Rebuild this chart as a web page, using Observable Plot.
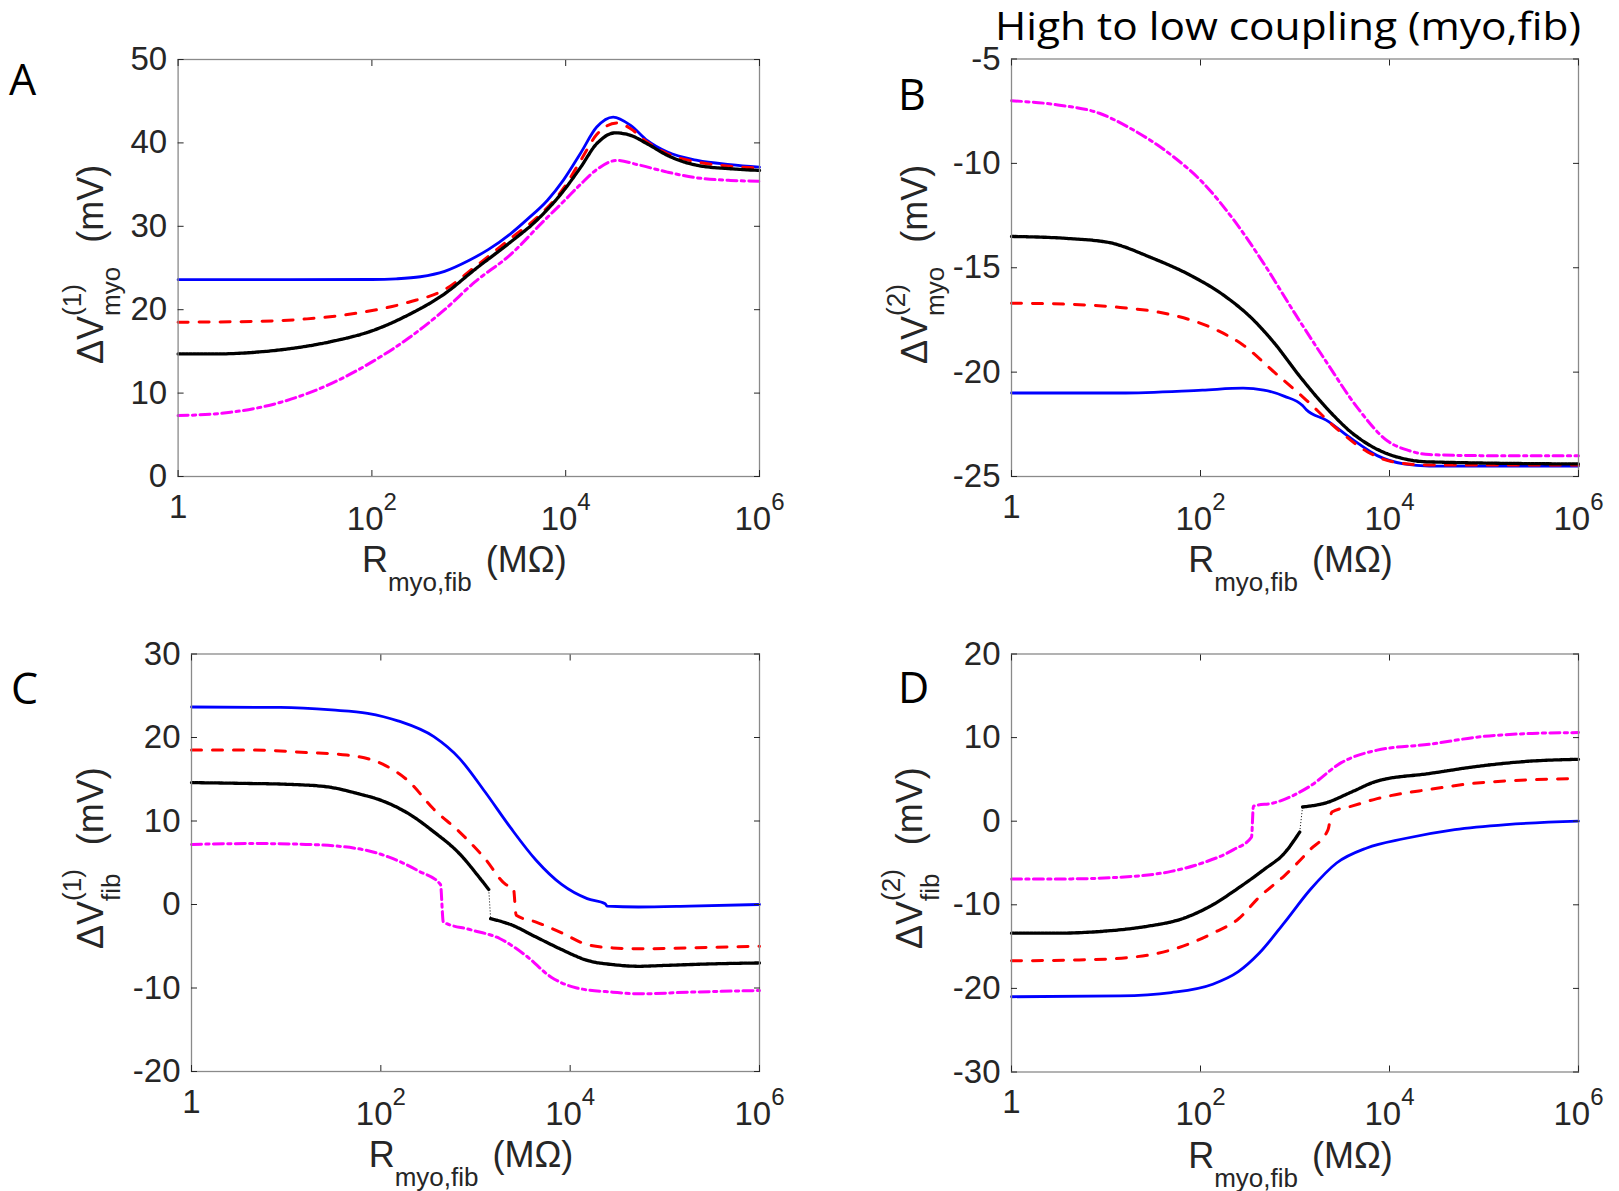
<!DOCTYPE html>
<html><head><meta charset="utf-8">
<script src="https://cdn.jsdelivr.net/npm/d3@7"></script>
<script src="https://cdn.jsdelivr.net/npm/@observablehq/plot@0.6"></script>
<style>
html,body{margin:0;padding:0;background:#fff;}
#fig{position:relative;width:1619px;height:1191px;background:#fff;overflow:hidden;}
#fig svg{position:absolute;overflow:visible;}
#title{position:absolute;left:995px;top:6px;font-family:"Open Sans";font-size:38px;line-height:1;white-space:nowrap;transform-origin:0 0;color:#000;z-index:2;display:inline-block;}
</style></head><body>
<div id="fig"><div id="title">High to low coupling (myo,fib)</div></div>
<script>
// ---------- shared axis data ----------
const X_TICKS = [1, 1e2, 1e4, 1e6];
const X_TICK_LABELS = ["1", "10^2", "10^4", "10^6"];
const A_Y_TICKS = [0, 10, 20, 30, 40, 50];
const B_Y_TICKS = [-25, -20, -15, -10, -5];
const C_Y_TICKS = [-20, -10, 0, 10, 20, 30];
const D_Y_TICKS = [-30, -20, -10, 0, 10, 20];

// ---------- Panel A: dV(1) myo ----------
const A_blue_logR = [0, 1, 2, 2.25, 2.5, 2.75, 3.0, 3.2, 3.43, 3.6, 3.81, 3.98, 4.15, 4.32, 4.49, 4.67, 4.84, 5.05, 5.36, 5.7, 6];
const A_blue_mV   = [23.6, 23.6, 23.62, 23.7, 23.95, 24.6, 25.9, 27.2, 29.1, 30.8, 33.1, 35.6, 38.7, 41.9, 43.1, 42.1, 40.3, 38.9, 37.9, 37.4, 37.1];
const A_red_logR  = [0, 0.8, 1.33, 1.85, 2.38, 2.75, 3.06, 3.46, 3.7, 3.98, 4.15, 4.32, 4.53, 4.67, 4.84, 5.05, 5.36, 5.7, 6];
const A_red_mV    = [18.5, 18.6, 18.9, 19.6, 20.9, 22.4, 25.1, 28.8, 31.0, 34.6, 37.8, 41.0, 42.4, 41.7, 40.1, 38.7, 37.7, 37.2, 37.0];
const A_black_logR = [0, 0.4, 0.8, 1.2, 1.59, 2.01, 2.38, 2.75, 3.06, 3.43, 3.69, 3.96, 4.15, 4.32, 4.51, 4.67, 4.84, 5.05, 5.36, 5.7, 6];
const A_black_mV   = [14.7, 14.7, 14.9, 15.4, 16.2, 17.5, 19.4, 21.9, 24.8, 28.1, 30.6, 34.0, 37.0, 39.9, 41.2, 40.9, 39.9, 38.5, 37.3, 36.9, 36.7];
const A_black_seg  = [0, 0, 0, 0, 0, 0, 0, 0, 0, 0, 0, 0, 0, 0, 0, 0, 0, 0, 0, 0, 0];
const A_mag_logR  = [0, 0.54, 1.06, 1.59, 2.01, 2.38, 2.75, 3.06, 3.43, 3.77, 3.98, 4.15, 4.32, 4.53, 4.74, 5.05, 5.36, 5.7, 6];
const A_mag_mV    = [7.3, 7.7, 8.9, 11.2, 13.8, 16.6, 20.0, 23.3, 26.6, 30.6, 33.0, 35.0, 36.8, 37.9, 37.4, 36.5, 35.8, 35.5, 35.4];

// ---------- Panel B: dV(2) myo ----------
const B_blue_logR = [0, 1.15, 2.02, 2.45, 2.67, 2.89, 3.08, 3.12, 3.33, 3.6, 3.87, 4.15, 4.42, 6];
const B_blue_mV   = [-21.0, -21.0, -20.86, -20.77, -20.86, -21.16, -21.6, -21.8, -22.3, -23.2, -24.0, -24.4, -24.5, -24.5];
const B_red_logR  = [0, 0.6, 1.15, 1.69, 2.13, 2.45, 2.78, 3.11, 3.44, 3.76, 4.04, 4.42, 6];
const B_red_mV    = [-16.7, -16.75, -16.9, -17.25, -17.9, -18.7, -20.0, -21.3, -22.7, -23.8, -24.3, -24.45, -24.45];
const B_black_logR = [0, 0.6, 1.04, 1.47, 1.91, 2.24, 2.56, 2.78, 3.05, 3.33, 3.6, 3.87, 4.15, 4.42, 6];
const B_black_mV   = [-13.5, -13.6, -13.8, -14.5, -15.4, -16.3, -17.5, -18.6, -20.2, -21.7, -22.9, -23.7, -24.15, -24.3, -24.4];
const B_black_seg  = [0, 0, 0, 0, 0, 0, 0, 0, 0, 0, 0, 0, 0, 0, 0];
const B_mag_logR  = [0, 0.49, 0.93, 1.25, 1.69, 2.02, 2.35, 2.67, 3.0, 3.33, 3.66, 3.98, 4.2, 4.42, 4.96, 6];
const B_mag_mV    = [-7.0, -7.2, -7.6, -8.3, -9.6, -10.9, -12.7, -14.8, -17.2, -19.5, -21.7, -23.3, -23.75, -23.95, -24.0, -24.0];

// ---------- Panel C: dV(1) fib ----------
const C_blue_logR = [0, 0.94, 1.48, 1.86, 2.18, 2.56, 2.83, 3.10, 3.37, 3.64, 3.91, 4.18, 4.37, 4.39, 4.72, 5.26, 6];
const C_blue_mV   = [23.65, 23.6, 23.3, 22.9, 22.0, 20.1, 17.5, 13.5, 9.2, 5.3, 2.4, 0.7, 0.1, -0.2, -0.3, -0.2, 0.0];
const C_red_logR  = [0, 0.67, 1.21, 1.64, 2.02, 2.29, 2.56, 2.83, 3.10, 3.32, 3.40, 3.43, 3.64, 3.91, 4.18, 4.45, 4.72, 5.26, 6];
const C_red_mV    = [18.5, 18.5, 18.2, 17.9, 16.8, 14.8, 11.4, 8.7, 5.5, 2.4, 2.0, -1.3, -2.1, -3.4, -4.8, -5.2, -5.3, -5.2, -5.0];
const C_black_logR = [0, 0.57, 1.0, 1.43, 1.75, 2.02, 2.29, 2.56, 2.83, 3.05, 3.14, 3.16, 3.37, 3.64, 3.91, 4.18, 4.45, 4.72, 4.99, 5.53, 6];
const C_black_mV   = [14.6, 14.5, 14.4, 14.1, 13.3, 12.4, 10.9, 8.7, 6.1, 3.1, 1.8, -1.7, -2.4, -3.9, -5.4, -6.7, -7.2, -7.4, -7.3, -7.1, -7.0];
const C_black_seg  = [0, 0, 0, 0, 0, 0, 0, 0, 0, 0, 0, 1, 1, 1, 1, 1, 1, 1, 1, 1, 1];
const C_mag_logR  = [0, 0.67, 1.21, 1.75, 2.08, 2.4, 2.63, 2.66, 2.94, 3.26, 3.53, 3.8, 4.07, 4.45, 4.72, 5.26, 6];
const C_mag_mV    = [7.2, 7.3, 7.2, 6.7, 5.7, 4.0, 2.4, -2.1, -3.0, -4.1, -6.1, -8.7, -10.0, -10.5, -10.7, -10.5, -10.3];

// ---------- Panel D: dV(2) fib ----------
const D_blue_logR = [0, 1.15, 1.69, 2.13, 2.4, 2.62, 2.89, 3.16, 3.44, 3.76, 4.15, 4.69, 5.24, 6];
const D_blue_mV   = [-21.0, -20.9, -20.5, -19.5, -18.0, -15.8, -12.1, -8.2, -5.0, -3.2, -2.1, -1.0, -0.4, 0.0];
const D_red_logR  = [0, 0.71, 1.25, 1.69, 2.13, 2.4, 2.62, 2.89, 3.16, 3.35, 3.39, 3.6, 3.87, 4.42, 4.96, 6];
const D_red_mV    = [-16.7, -16.6, -16.3, -15.4, -13.4, -11.7, -9.1, -6.5, -3.4, -1.0, 1.1, 1.8, 2.7, 3.8, 4.6, 5.1];
const D_black_logR = [0, 0.44, 0.93, 1.42, 1.8, 2.13, 2.4, 2.67, 2.89, 3.05, 3.08, 3.33, 3.6, 3.87, 4.42, 4.96, 5.51, 6];
const D_black_mV   = [-13.4, -13.4, -13.2, -12.6, -11.7, -10.0, -8.0, -5.8, -3.8, -1.3, 1.7, 2.2, 3.5, 4.8, 5.7, 6.6, 7.2, 7.4];
const D_black_seg  = [0, 0, 0, 0, 0, 0, 0, 0, 0, 0, 1, 1, 1, 1, 1, 1, 1, 1];
const D_mag_logR  = [0, 0.6, 1.15, 1.69, 2.02, 2.35, 2.54, 2.56, 2.78, 3.16, 3.49, 3.87, 4.42, 4.96, 5.51, 6];
const D_mag_mV    = [-6.9, -6.9, -6.7, -6.0, -5.0, -3.4, -1.9, 1.8, 2.2, 4.2, 7.0, 8.5, 9.2, 10.1, 10.5, 10.6];

// ---------- helpers ----------
const FONT = "Liberation Sans, Arial, Helvetica, sans-serif";
const INK = "#262626";
const toRows = (logR, v, seg) => logR.map((l, i) => ({x: Math.pow(10, l), y: v[i], s: seg ? seg[i] : 0}));

function seriesMarks(p) {
  const blue = toRows(p.blue[0], p.blue[1]);
  const red = toRows(p.red[0], p.red[1]);
  const black = toRows(p.black[0], p.black[1], p.black[2]);
  const mag = toRows(p.mag[0], p.mag[1]);
  const jumps = [];
  for (let i = 1; i < black.length; i++) if (black[i].s !== black[i - 1].s) jumps.push({a: black[i - 1], b: black[i]});
  return [
    Plot.line(blue, {x: "x", y: "y", stroke: "#0000ff", strokeWidth: 2.8, curve: "monotone-x"}),
    Plot.line(red, {x: "x", y: "y", stroke: "#ff0000", strokeWidth: 3, strokeDasharray: "10,11", curve: "monotone-x"}),
    Plot.line(black, {x: "x", y: "y", z: "s", stroke: "#000", strokeWidth: 3.3, strokeDasharray: "2.8,0.9", curve: "monotone-x"}),
    Plot.link(jumps, {x1: d => d.a.x, y1: d => d.a.y, x2: d => d.b.x, y2: d => d.b.y, stroke: "#000", strokeWidth: 1, strokeDasharray: "1,2"}),
    Plot.line(mag, {x: "x", y: "y", stroke: "#ff00ff", strokeWidth: 3, strokeDasharray: "10,4.3,3.3,4.3", curve: "monotone-x"})
  ];
}

const fig = document.getElementById("fig");

function makePanel(p) {
  const svg = Plot.plot({
    width: p.w, height: p.h,
    marginLeft: p.ml, marginRight: p.mr, marginTop: p.mt, marginBottom: p.mb,
    style: {background: "transparent", fontFamily: FONT, overflow: "visible"},
    x: {type: "log", domain: [1, 1e6], label: null},
    y: {domain: p.ydom, label: null},
    marks: [
      ...seriesMarks(p),
      Plot.frame({stroke: "#8a8a8a", strokeWidth: 1.3}),
      Plot.axisY({anchor: "left", ticks: p.yticks, tickSize: -6, tickPadding: 17, fontSize: 33, color: INK, label: null, tickFormat: d => String(d)}),
      Plot.axisY({anchor: "right", ticks: p.yticks, tickSize: -6, tickFormat: () => "", color: INK, label: null}),
      Plot.axisX({anchor: "bottom", ticks: X_TICKS, tickSize: -6, tickPadding: 24, fontSize: 33, color: INK, label: null,
        tickFormat: d => X_TICK_LABELS[X_TICKS.indexOf(d)]}),
      Plot.axisX({anchor: "top", ticks: X_TICKS, tickSize: -6, tickFormat: () => "", color: INK, label: null})
    ]
  });
  svg.style.left = p.left + "px";
  svg.style.top = p.top + "px";
  fig.appendChild(svg);
  const s = d3.select(svg);

  // superscript exponents on x tick labels
  s.selectAll('g[aria-label="x-axis tick label"] text').each(function () {
    const str = this.textContent;
    const k = str.indexOf("^");
    if (k < 0) return;
    const t = d3.select(this);
    t.text(null);
    t.append("tspan").attr("dy", 12).text(str.slice(0, k));
    t.append("tspan").attr("dy", -20).attr("font-size", 24).text(str.slice(k + 1));
  });

  // x label
  const cx = p.ml + (p.w - p.ml - p.mr) / 2 - 4;
  const xl = s.append("text").attr("x", cx).attr("y", p.h - p.mb + 96)
    .attr("text-anchor", "middle").attr("font-family", FONT).attr("font-size", 36).attr("fill", INK);
  xl.append("tspan").text("R");
  xl.append("tspan").attr("font-size", 26).attr("dy", 19).text("myo,fib");
  xl.append("tspan").attr("dy", -19).attr("dx", 14).text("(M\u03A9)");

  // y label (rotated)
  const yl = s.append("text").attr("transform", `translate(${p.ylx},${p.yly}) rotate(-90)`)
    .attr("text-anchor", "start").attr("font-family", FONT).attr("font-size", 36).attr("fill", INK);
  yl.append("tspan").text("\u0394V");
  const sup = yl.append("tspan").attr("font-size", 26).attr("dy", -22).text(p.sup);
  const wSup = sup.node().getComputedTextLength();
  const sub = yl.append("tspan").attr("font-size", 26).attr("dx", -wSup).attr("dy", 39).text(p.sub);
  const wSub = sub.node().getComputedTextLength();
  yl.append("tspan").attr("dy", -17).attr("dx", 24 + Math.max(0, wSup - wSub)).text("(mV)");

  // panel letter
  s.append("text").attr("x", p.lx).attr("y", p.ly).attr("text-anchor", "start").attr("font-family", "Open Sans, sans-serif")
    .attr("font-size", 43).attr("fill", "#000").text(p.letter);
  return svg;
}

makePanel({letter: "A", left: 0, top: 0, w: 800, h: 610, ml: 177.6, mr: 41, mt: 59, mb: 134,
  ydom: [0, 50], yticks: A_Y_TICKS, sup: "(1)", sub: "myo", ylx: 103, yly: 364, lx: 9, ly: 95,
  blue: [A_blue_logR, A_blue_mV], red: [A_red_logR, A_red_mV], black: [A_black_logR, A_black_mV, A_black_seg], mag: [A_mag_logR, A_mag_mV]});
makePanel({letter: "B", left: 810, top: 0, w: 809, h: 610, ml: 201, mr: 41, mt: 58.5, mb: 134,
  ydom: [-25, -5], yticks: B_Y_TICKS, sup: "(2)", sub: "myo", ylx: 117, yly: 364, lx: 88, ly: 110,
  blue: [B_blue_logR, B_blue_mV], red: [B_red_logR, B_red_mV], black: [B_black_logR, B_black_mV, B_black_seg], mag: [B_mag_logR, B_mag_mV]});
makePanel({letter: "C", left: 0, top: 610, w: 800, h: 581, ml: 191, mr: 41, mt: 43.5, mb: 120,
  ydom: [-20, 30], yticks: C_Y_TICKS, sup: "(1)", sub: "fib", ylx: 103, yly: 339, lx: 11, ly: 94,
  blue: [C_blue_logR, C_blue_mV], red: [C_red_logR, C_red_mV], black: [C_black_logR, C_black_mV, C_black_seg], mag: [C_mag_logR, C_mag_mV]});
makePanel({letter: "D", left: 810, top: 610, w: 809, h: 581, ml: 201, mr: 41, mt: 43.5, mb: 119.5,
  ydom: [-30, 20], yticks: D_Y_TICKS, sup: "(2)", sub: "fib", ylx: 112, yly: 339, lx: 88, ly: 93,
  blue: [D_blue_logR, D_blue_mV], red: [D_red_logR, D_red_mV], black: [D_black_logR, D_black_mV, D_black_seg], mag: [D_mag_logR, D_mag_mV]});

// stretch title to the reference width
const title = document.getElementById("title");
const tw = title.getBoundingClientRect().width;
title.style.transform = `scaleX(${586 / tw})`;
</script></body></html>
